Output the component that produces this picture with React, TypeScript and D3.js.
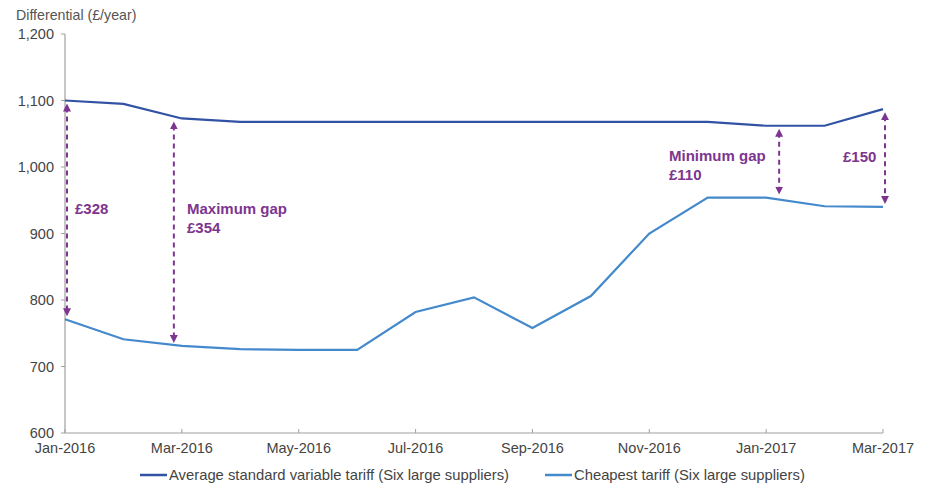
import React from "react";
import * as d3 from "d3";

const months = ["Jan-2016","Feb-2016","Mar-2016","Apr-2016","May-2016","Jun-2016","Jul-2016","Aug-2016","Sep-2016","Oct-2016","Nov-2016","Dec-2016","Jan-2017","Feb-2017","Mar-2017"];
const svtValues = [1100, 1095, 1073, 1068, 1068, 1068, 1068, 1068, 1068, 1068, 1068, 1068, 1062, 1062, 1087];
const cheapestValues = [771, 741, 731, 726, 725, 725, 782, 804, 758, 806, 900, 954, 954, 941, 940];
const xTickLabels = ["Jan-2016","Mar-2016","May-2016","Jul-2016","Sep-2016","Nov-2016","Jan-2017","Mar-2017"];
const yTicks = [600, 700, 800, 900, 1000, 1100, 1200];
const seriesNames = ["Average standard variable tariff (Six large suppliers)", "Cheapest tariff (Six large suppliers)"];
const gapIndices = [0, 2, 12, 14];
const gapTexts = [["£328"], ["Maximum gap", "£354"], ["Minimum gap", "£110"], ["£150"]];

export default function App() {
  const W = 931, H = 489;
  const left = 65, right = 883, top = 34, bottom = 433;
  const x = d3.scaleLinear().domain([0, months.length - 1]).range([left, right]);
  const y = d3.scaleLinear().domain([600, 1200]).range([bottom, top]);
  const line = d3.line<number>().x((_, i) => x(i)).y(d => y(d));
  const purple = "#7d3590";
  const darkBlue = "#3253a4";
  const lightBlue = "#4389cc";
  const font = "'Liberation Sans', Arial, sans-serif";

  // layout of annotations (pixel offsets)
  const arrowDx = [2, -8, 13, 2];
  const labelPos = [[75, 214], [187, 214], [669, 161], [843, 162]];

  return (
    <svg width={W} height={H} style={{ display: "block", position: "absolute", left: 0, top: 0 }}>
      <defs>
        <marker id="ah" viewBox="0 0 10 10" refX="5" refY="5" markerWidth="4" markerHeight="4" orient="auto-start-reverse">
          <path d="M0,0 L10,5 L0,10 z" fill={purple} />
        </marker>
      </defs>
      <rect width={W} height={H} fill="#fff" />
      <text x={16} y={20} fontFamily={font} fontSize={14.2} fill="#555">Differential (£/year)</text>
      {/* y axis */}
      <line x1={left} x2={left} y1={top} y2={bottom} stroke="#a0a0a0" strokeWidth={1.2} />
      {yTicks.map(t => (
        <g key={t}>
          <line x1={left - 4} x2={left} y1={y(t)} y2={y(t)} stroke="#a0a0a0" />
          <text x={54} y={y(t) + 5} textAnchor="end" fontFamily={font} fontSize={14.5} fill="#444">{d3.format(",")(t)}</text>
        </g>
      ))}
      {/* x axis */}
      <line x1={left} x2={right} y1={bottom} y2={bottom} stroke="#a0a0a0" strokeWidth={1.2} />
      {xTickLabels.map(lbl => {
        const i = months.indexOf(lbl);
        return (
          <g key={lbl}>
            <line x1={x(i)} x2={x(i)} y1={bottom} y2={bottom - 4} stroke="#a0a0a0" />
            <text x={x(i)} y={bottom + 20} textAnchor="middle" fontFamily={font} fontSize={14.5} fill="#444">{lbl}</text>
          </g>
        );
      })}
      {/* lines */}
      <path d={line(svtValues) || ""} fill="none" stroke={darkBlue} strokeWidth={2.2} />
      <path d={line(cheapestValues) || ""} fill="none" stroke={lightBlue} strokeWidth={2.2} />
      {/* gap arrows */}
      {gapIndices.map((idx, j) => {
        const ax = x(idx) + arrowDx[j];
        const y1 = y(svtValues[idx]) + 7;
        const y2 = y(cheapestValues[idx]) - 7;
        return (
          <g key={idx}>
            <line x1={ax} x2={ax} y1={y1} y2={y2} stroke={purple} strokeWidth={2} strokeDasharray="5,4"
              markerStart="url(#ah)" markerEnd="url(#ah)" />
            {gapTexts[j].map((l, k) => (
              <text key={k} x={labelPos[j][0]} y={labelPos[j][1] + k * 19}
                fontFamily={font} fontWeight="bold" fontSize={15} fill={purple}>{l}</text>
            ))}
          </g>
        );
      })}
      {/* legend */}
      <line x1={140} x2={167} y1={475} y2={475} stroke={darkBlue} strokeWidth={2.5} />
      <text x={169} y={480} fontFamily={font} fontSize={14.8} fill="#444">{seriesNames[0]}</text>
      <line x1={545} x2={572} y1={475} y2={475} stroke={lightBlue} strokeWidth={2.5} />
      <text x={574} y={480} fontFamily={font} fontSize={14.8} fill="#444">{seriesNames[1]}</text>
    </svg>
  );
}
